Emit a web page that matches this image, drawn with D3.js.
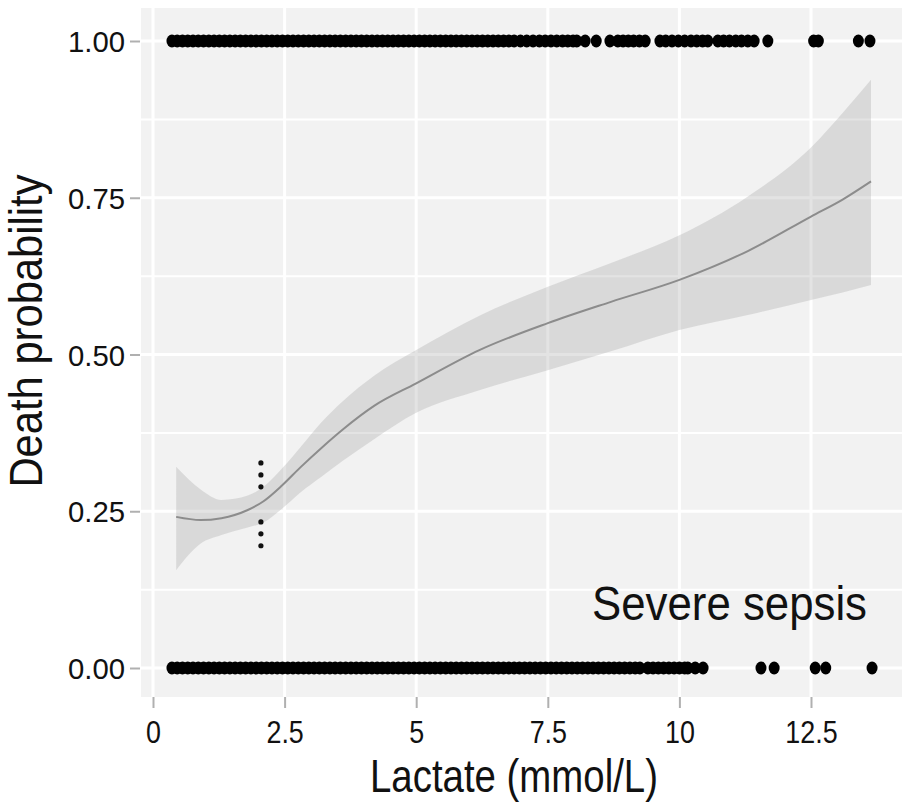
<!DOCTYPE html>
<html>
<head>
<meta charset="utf-8">
<script src="https://cdn.jsdelivr.net/npm/d3@7/dist/d3.min.js"></script>
<style>
  body { margin: 0; background: #fff; }
  text { font-family: "Liberation Sans", Arial, sans-serif; }
</style>
</head>
<body>
<div id="chart"></div>
<script>
// 设置常数
var WIDTH = 903;
var HEIGHT = 809;
var PANEL = { left: 141, right: 902, top: 8, bottom: 697 };

// 刻度
var xTicks = [0, 2.5, 5, 7.5, 10, 12.5];
var xTickLabels = ["0", "2.5", "5", "7.5", "10", "12.5"];
var yTicks = [0, 0.25, 0.5, 0.75, 1];
var yTickLabels = ["0.00", "0.25", "0.50", "0.75", "1.00"];
var yMinorTicks = [0.125, 0.375, 0.625, 0.875];

// 拟合曲线 + 置信区间
var fitX    = [0.44, 0.9, 1.3, 1.8, 2.1, 2.45, 2.8, 3.2, 3.6, 4.2, 5.0, 6.2, 7.5, 8.7, 10.0, 11.3, 12.5, 13.1, 13.64];
var fitY    = [0.241, 0.236, 0.239, 0.252, 0.266, 0.291, 0.320, 0.351, 0.380, 0.418, 0.454, 0.507, 0.550, 0.584, 0.619, 0.665, 0.720, 0.747, 0.776];
var fitLow  = [0.156, 0.198, 0.212, 0.224, 0.232, 0.254, 0.280, 0.305, 0.330, 0.365, 0.407, 0.443, 0.475, 0.505, 0.539, 0.563, 0.587, 0.599, 0.611];
var fitHigh = [0.321, 0.285, 0.268, 0.275, 0.289, 0.318, 0.352, 0.392, 0.425, 0.466, 0.507, 0.562, 0.608, 0.646, 0.690, 0.752, 0.830, 0.885, 0.938];

// 死亡 (y = 1) 的乳酸值
var deathLactate = [
  0.36, 0.46, 0.56, 0.66, 0.76, 0.86, 0.96, 1.06, 1.16, 1.26, 1.36, 1.46, 1.56, 1.66, 1.76, 1.86, 1.96,
  2.06, 2.16, 2.26, 2.36, 2.46, 2.56, 2.66, 2.76, 2.86, 2.96, 3.06, 3.16, 3.26, 3.36, 3.46, 3.56, 3.66,
  3.76, 3.86, 3.96, 4.06, 4.16, 4.26, 4.36, 4.46, 4.56, 4.66, 4.76, 4.86, 4.96, 5.06, 5.16, 5.26, 5.36,
  5.46, 5.56, 5.66, 5.76, 5.86, 5.96, 6.06, 6.16, 6.26, 6.36, 6.46, 6.56, 6.66, 6.76, 6.86,
  6.98, 7.1, 7.22, 7.34, 7.45, 7.56, 7.67, 7.78, 7.88, 7.98, 8.05, 8.21, 8.42, 8.68, 8.83, 8.93, 9.03,
  9.13, 9.24, 9.35, 9.63, 9.74, 9.86, 9.98, 10.1, 10.22, 10.33, 10.44, 10.54, 10.73, 10.84, 10.95,
  11.07, 11.18, 11.3, 11.42, 11.68, 12.55, 12.64, 13.4, 13.62
];

// 存活 (y = 0) 的乳酸值
var survivalLactate = [
  0.36, 0.46, 0.56, 0.66, 0.76, 0.86, 0.96, 1.06, 1.16, 1.26, 1.36, 1.46, 1.56, 1.66, 1.76, 1.86, 1.96,
  2.06, 2.16, 2.26, 2.36, 2.46, 2.56, 2.66, 2.76, 2.86, 2.96, 3.06, 3.16, 3.26, 3.36, 3.46, 3.56, 3.66,
  3.76, 3.86, 3.96, 4.06, 4.16, 4.26, 4.36, 4.46, 4.56, 4.66, 4.76, 4.86, 4.96, 5.06, 5.16, 5.26, 5.36,
  5.46, 5.56, 5.66, 5.76, 5.86, 5.96, 6.06, 6.16, 6.26, 6.36, 6.46, 6.56, 6.66, 6.76, 6.86, 6.96, 7.06,
  7.16, 7.26, 7.36, 7.46, 7.56, 7.66, 7.76, 7.86, 7.96, 8.06, 8.16, 8.26, 8.36, 8.46, 8.56, 8.66, 8.76,
  8.86, 8.96, 9.06, 9.16, 9.25,
  9.4, 9.5, 9.6, 9.7, 9.8, 9.9, 10.0, 10.1, 10.16, 10.3, 10.45, 11.55, 11.8, 12.58, 12.78, 13.66
];

// 乳酸 2 mmol/L 处的虚线标记
var cutLactate = 2.05;
var cutProb = [0.327, 0.308, 0.289, 0.233, 0.214, 0.195];

var svg = d3.select("#chart")
  .append("svg")
  .attr("width", WIDTH)
  .attr("height", HEIGHT);

// 比例尺
var xScale = d3.scaleLinear().domain([0, 12.5]).range([153, 811]);
var yScale = d3.scaleLinear().domain([0, 1]).range([668, 41]);

// 背景
svg.append("rect")
  .attr("x", PANEL.left)
  .attr("y", PANEL.top)
  .attr("width", PANEL.right - PANEL.left)
  .attr("height", PANEL.bottom - PANEL.top)
  .attr("fill", "#f2f2f2");

// 网格线
svg.selectAll(".grid-minor")
  .data(yMinorTicks)
  .enter()
  .append("line")
  .attr("x1", PANEL.left).attr("x2", PANEL.right)
  .attr("y1", function (d) { return yScale(d); })
  .attr("y2", function (d) { return yScale(d); })
  .attr("stroke", "#fff")
  .attr("stroke-width", 2);

svg.selectAll(".grid-y")
  .data(yTicks)
  .enter()
  .append("line")
  .attr("x1", PANEL.left).attr("x2", PANEL.right)
  .attr("y1", function (d) { return yScale(d); })
  .attr("y2", function (d) { return yScale(d); })
  .attr("stroke", "#fff")
  .attr("stroke-width", 3);

svg.selectAll(".grid-x")
  .data(xTicks)
  .enter()
  .append("line")
  .attr("y1", PANEL.top).attr("y2", PANEL.bottom)
  .attr("x1", function (d) { return xScale(d); })
  .attr("x2", function (d) { return xScale(d); })
  .attr("stroke", "#fff")
  .attr("stroke-width", 3);

// 置信区间
var fitData = fitX.map(function (x, i) {
  return { x: x, y: fitY[i], lo: fitLow[i], hi: fitHigh[i] };
});

var band = d3.area()
  .x(function (d) { return xScale(d.x); })
  .y0(function (d) { return yScale(d.lo); })
  .y1(function (d) { return yScale(d.hi); })
  .curve(d3.curveMonotoneX);

svg.append("path")
  .datum(fitData)
  .attr("d", band)
  .attr("fill", "#999")
  .attr("fill-opacity", 0.28);

// 拟合线
var fitLine = d3.line()
  .x(function (d) { return xScale(d.x); })
  .y(function (d) { return yScale(d.y); })
  .curve(d3.curveMonotoneX);

svg.append("path")
  .datum(fitData)
  .attr("d", fitLine)
  .attr("fill", "none")
  .attr("stroke", "#8c8c8c")
  .attr("stroke-width", 2);

// 散点
function drawRow(values, prob) {
  svg.append("g")
    .selectAll("ellipse")
    .data(values)
    .enter()
    .append("ellipse")
    .attr("cx", function (d) { return xScale(d); })
    .attr("cy", yScale(prob))
    .attr("rx", 5.5)
    .attr("ry", 6.5)
    .attr("fill", "#000");
}
drawRow(deathLactate, 1);
drawRow(survivalLactate, 0);

// 2 mmol/L 标记
svg.append("g")
  .selectAll("circle")
  .data(cutProb)
  .enter()
  .append("circle")
  .attr("cx", xScale(cutLactate))
  .attr("cy", function (d) { return yScale(d); })
  .attr("r", 2.6)
  .attr("fill", "#111");

// y轴
var yAxis = d3.axisLeft(yScale)
  .tickValues(yTicks)
  .tickFormat(function (d, i) { return yTickLabels[i]; })
  .tickSize(10)
  .tickPadding(5);

var gy = svg.append("g")
  .attr("transform", "translate(" + (PANEL.left - 1) + ",0)")
  .call(yAxis)
  .attr("font-family", null)
  .attr("font-size", null);
gy.select(".domain").remove();
gy.selectAll("line").attr("stroke", "#b0b0b0").attr("stroke-width", 2);
gy.selectAll("text")
  .attr("font-size", 30)
  .style("font-size", "30px")
  .attr("fill", "#111")
  .attr("dy", "0.35em")
  .attr("textLength", 57)
  .attr("lengthAdjust", "spacingAndGlyphs");

// x轴
var xAxis = d3.axisBottom(xScale)
  .tickValues(xTicks)
  .tickFormat(function (d, i) { return xTickLabels[i]; })
  .tickSize(11)
  .tickPadding(12);

var gx = svg.append("g")
  .attr("transform", "translate(0," + PANEL.bottom + ")")
  .call(xAxis)
  .attr("font-family", null)
  .attr("font-size", null);
gx.select(".domain").remove();
gx.selectAll("line").attr("stroke", "#b0b0b0").attr("stroke-width", 2);
gx.selectAll("text")
  .attr("font-size", 32)
  .style("font-size", "32px")
  .attr("fill", "#111")
  .each(function () {
    var len = this.getComputedTextLength();
    d3.select(this).attr("textLength", len * 0.84).attr("lengthAdjust", "spacingAndGlyphs");
  });

// 轴标题
svg.append("text")
  .attr("x", 514)
  .attr("y", 792)
  .attr("text-anchor", "middle")
  .attr("textLength", 288)
  .attr("lengthAdjust", "spacingAndGlyphs")
  .style("font-size", "47px")
  .attr("fill", "#111")
  .text("Lactate (mmol/L)");

svg.append("text")
  .attr("transform", "translate(42,331) rotate(-90)")
  .attr("text-anchor", "middle")
  .attr("textLength", 313)
  .attr("lengthAdjust", "spacingAndGlyphs")
  .style("font-size", "47px")
  .attr("fill", "#111")
  .text("Death probability");

// 注释
svg.append("text")
  .attr("x", xScale(8.34))
  .attr("y", yScale(0.077))
  .attr("textLength", 275)
  .attr("lengthAdjust", "spacingAndGlyphs")
  .style("font-size", "48px")
  .attr("fill", "#111")
  .text("Severe sepsis");
</script>
</body>
</html>
